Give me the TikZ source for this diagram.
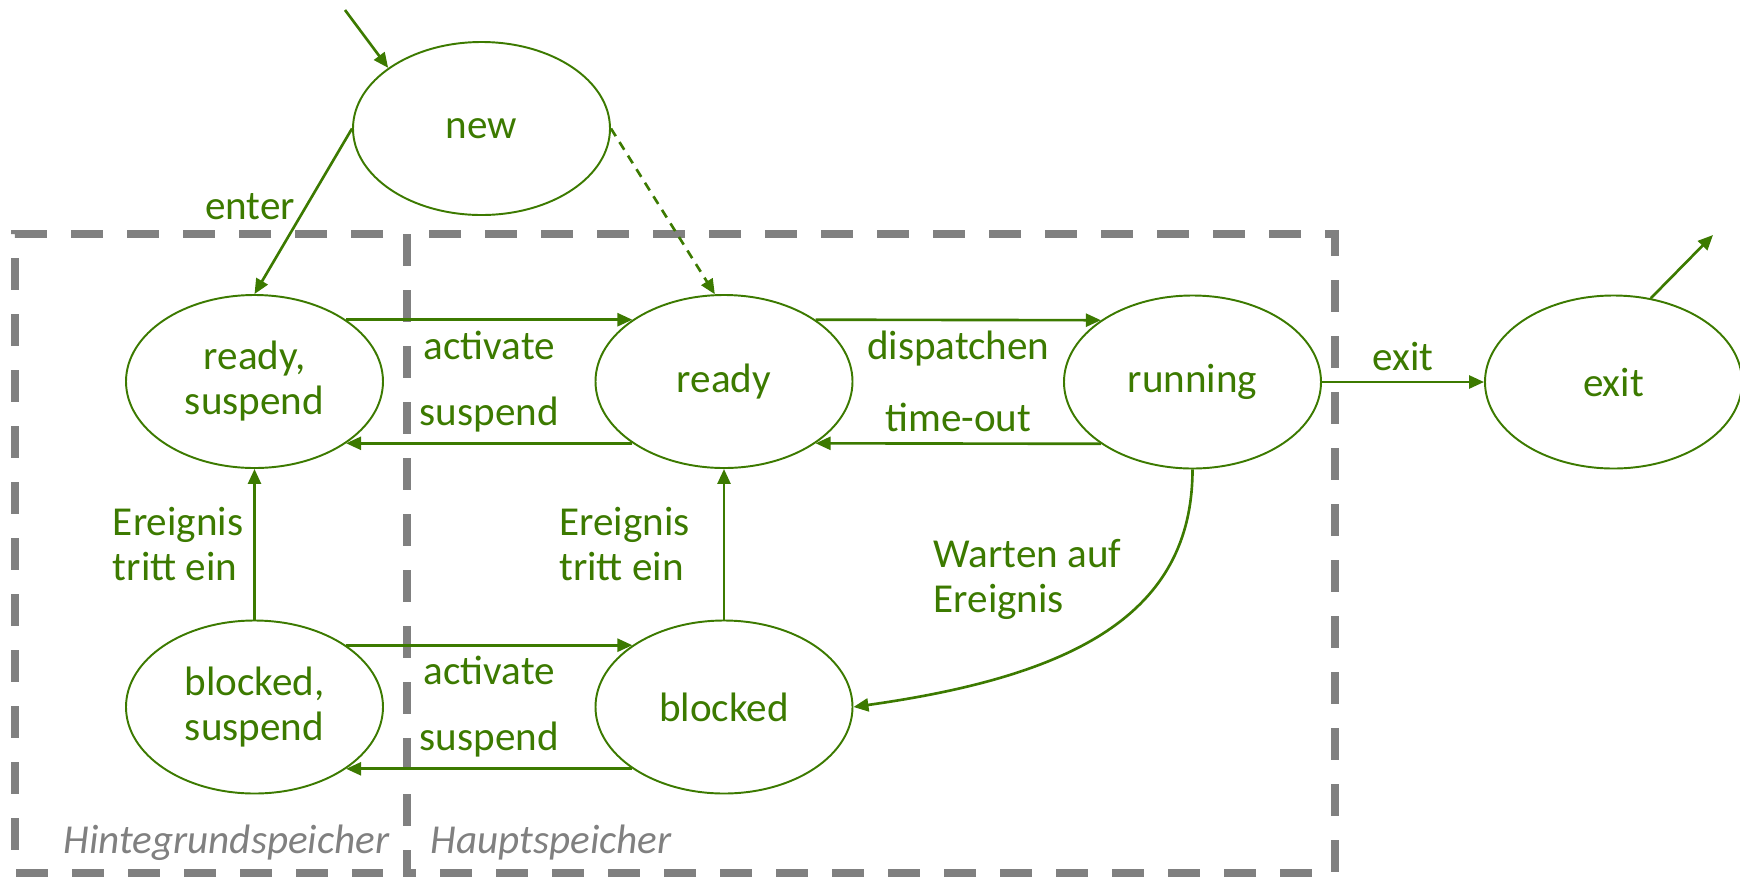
\documentclass[tikz,border=0pt]{standalone}
\usepackage{fontspec}
\setmainfont{Carlito}
\usetikzlibrary{arrows.meta,shapes.geometric}

\definecolor{procgreen}{RGB}{60,122,0}
\definecolor{memgray}{RGB}{128,128,128}
\newcommand\diagfont{\fontsize{11.7pt}{12.8pt}\selectfont}

\tikzset{
  state/.style={ellipse, draw=procgreen, line width=0.55pt, minimum width=2.57cm,
    minimum height=1.73cm, inner sep=0pt, align=center, text=procgreen},
  trans/.style={draw=procgreen, line width=0.75pt, -{Triangle[length=0.15cm,width=0.13cm]}},
  lbl/.style={text=procgreen, inner sep=0.1cm, align=left},
  membox/.style={draw=memgray, line width=2pt, dash pattern=on 0.32cm off 0.24cm},
  memlabel/.style={text=memgray, font={\diagfont\itshape}, inner sep=0pt, anchor=base west}
}

\begin{document}
\begin{tikzpicture}[font=\diagfont]
  \useasboundingbox (0,0) rectangle (17.40,-8.77);

  % memory areas, the middle edge is shared
  \draw[membox] (3.83,-2.34) -- (0.15,-2.34) -- (0.15,-8.73) -- (3.83,-8.73);
  \draw[membox] (4.07,-2.34) rectangle (13.35,-8.73);
  \node[memlabel] (hgs) at (0.63,-8.53) {Hintegrundspeicher};
  \node[memlabel] (hs) at (4.30,-8.53) {Hauptspeicher};

  \node[state] (new) at (4.815,-1.285) {new};
  \node[state] (readysusp) at (2.545,-3.815) {ready,\\suspend};
  \node[state] (ready) at (7.24,-3.815) {ready};
  \node[state] (running) at (11.925,-3.82) {running};
  \node[state] (exit) at (16.135,-3.82) {exit};
  \node[state] (blockedsusp) at (2.545,-7.07) {blocked,\\suspend};
  \node[state] (blocked) at (7.24,-7.07) {blocked};

  \coordinate (entry) at (3.45,-0.10);
  \coordinate (exitout) at (17.13,-2.35);

  \draw[trans] (entry) -- (new.147);
  \draw[trans] (new.west) -- node[lbl, left, pos=0.47] (lenter) {enter} (readysusp.north);
  \draw[trans, dash pattern=on 0.09cm off 0.07cm] (new.east) -- (ready.96);

  \draw[trans] (readysusp.34) -- node[lbl, below] (lact1) {activate} (ready.146);
  \draw[trans] (ready.214) -- node[lbl, above] (lsusp1) {suspend} (readysusp.-34);
  \draw[trans] (ready.34) -- node[lbl, below] (ldisp) {dispatchen} (running.146);
  \draw[trans] (running.214) -- node[lbl, above] (ltime) {time-out} (ready.-34);
  \draw[trans] (running.east) -- node[lbl, above] (lexit) {exit} (exit.west);
  \draw[trans] (exit.66) -- (exitout);

  \draw[trans] (blockedsusp.north) -- node[lbl, left] (lev1) {Ereignis\\tritt ein} (readysusp.south);
  \draw[trans] (blocked.north) -- node[lbl, left=0.23cm] (lev2) {Ereignis\\tritt ein} (ready.south);

  \draw[trans] (blockedsusp.34) -- node[lbl, below] (lact2) {activate} (blocked.146);
  \draw[trans] (blocked.214) -- node[lbl, above] (lsusp2) {suspend} (blockedsusp.-34);

  \draw[trans] (running.south) .. controls +(0,-1.45) and +(2.2,0.31) .. (blocked.east);
  \node[lbl, anchor=west] (lwait) at (9.23,-5.79) {Warten auf\\Ereignis};
\end{tikzpicture}
\end{document}
